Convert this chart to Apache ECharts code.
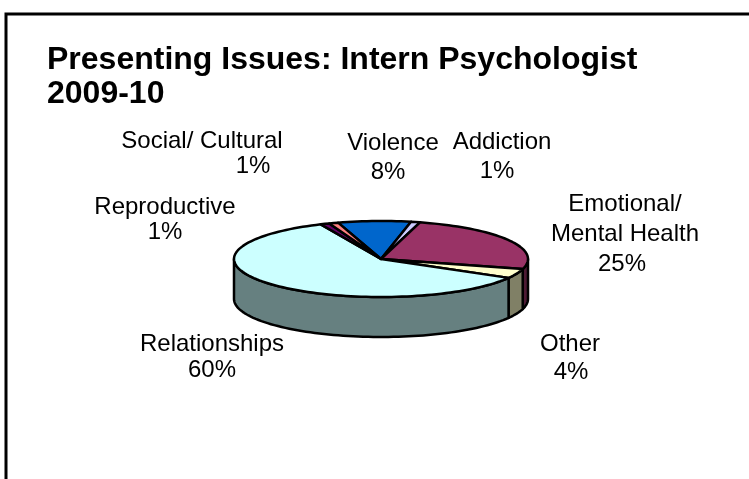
<!DOCTYPE html>
<html>
<head>
<meta charset="utf-8">
<style>html,body{margin:0;padding:0;background:#fff}#main{width:749px;height:479px}</style>
<script src="https://cdn.jsdelivr.net/npm/echarts@6/dist/echarts.min.js"></script>
</head>
<body>
<div id="main"></div>
<script>
// slices run clockwise starting from the Violence slice
var categories = ['Violence', 'Addiction', 'Emotional/\nMental Health', 'Other', 'Relationships', 'Reproductive', 'Social/ Cultural'];
var values = [8, 1, 25, 4, 60, 1, 1];
var topColors = ['#0066CC', '#CCCCFF', '#993366', '#FFFFCC', '#CCFFFF', '#660066', '#FF8080'];
var sideColors = ['#003366', '#666680', '#4D1A33', '#808066', '#668080', '#330033', '#804040'];

// label anchors, same order as categories
var nameX = [393, 502, 625, 570, 212, 165, 202];
var nameY = [143, 142, 219, 344, 344, 207, 141];
var pctX = [388, 497, 622, 571, 212, 165, 253];
var pctY = [172, 171, 264, 372, 370, 232, 166];

var cx = 381, cy = 259, rx = 147, ry = 38, depth = 40;
var startAngle = -17;

var total = values.reduce(function (a, b) { return a + b; }, 0);

function pt(deg, dy) {
    var r = deg * Math.PI / 180;
    return [cx + rx * Math.sin(r), cy - ry * Math.cos(r) + (dy || 0)];
}

function arc(from, to, dy) {
    var pts = [];
    var n = Math.max(2, Math.ceil(Math.abs(to - from) / 2));
    for (var i = 0; i <= n; i++) {
        pts.push(pt(from + (to - from) * i / n, dy));
    }
    return pts;
}

function labelText(x, y, text) {
    return {
        type: 'text',
        z2: 20,
        style: {
            x: x,
            y: y,
            text: text,
            align: 'center',
            verticalAlign: 'middle',
            fontFamily: 'Liberation Sans',
            fontSize: 24,
            lineHeight: 30,
            fill: '#000'
        }
    };
}

function renderSlice(params, api) {
    var i = params.dataIndex;
    var before = 0;
    for (var k = 0; k < i; k++) before += values[k];
    var a0 = startAngle + before / total * 360;
    var a1 = a0 + values[i] / total * 360;
    var children = [];
    var line = {stroke: '#000', lineWidth: 2.5, lineJoin: 'round'};

    // front wall only shows between 90 and 270 degrees
    var w0 = Math.max(a0, 90), w1 = Math.min(a1, 270);
    if (w1 > w0) {
        children.push({
            type: 'polygon',
            shape: {points: arc(w0, w1, 0).concat(arc(w1, w0, depth))},
            style: Object.assign({fill: sideColors[i]}, line)
        });
    }
    children.push({
        type: 'polygon',
        z2: 10,
        shape: {points: [[cx, cy]].concat(arc(a0, a1, 0))},
        style: Object.assign({fill: topColors[i]}, line)
    });
    children.push(labelText(nameX[i], nameY[i], categories[i]));
    children.push(labelText(pctX[i], pctY[i], values[i] + '%'));
    return {type: 'group', children: children};
}

var chart = echarts.init(document.getElementById('main'), null, {renderer: 'canvas'});
chart.setOption({
    animation: false,
    title: {
        text: 'Presenting Issues: Intern Psychologist\n2009-10',
        left: 42,
        top: 38,
        textStyle: {
            fontFamily: 'Liberation Sans',
            fontSize: 32,
            fontWeight: 'bold',
            lineHeight: 34,
            color: '#000'
        }
    },
    graphic: [{
        type: 'polyline',
        shape: {points: [[6, 479], [6, 14], [749, 14]]},
        style: {stroke: '#000', lineWidth: 3, fill: null}
    }],
    series: [{
        type: 'custom',
        coordinateSystem: 'none',
        data: values,
        renderItem: renderSlice
    }]
});
</script>
</body>
</html>
